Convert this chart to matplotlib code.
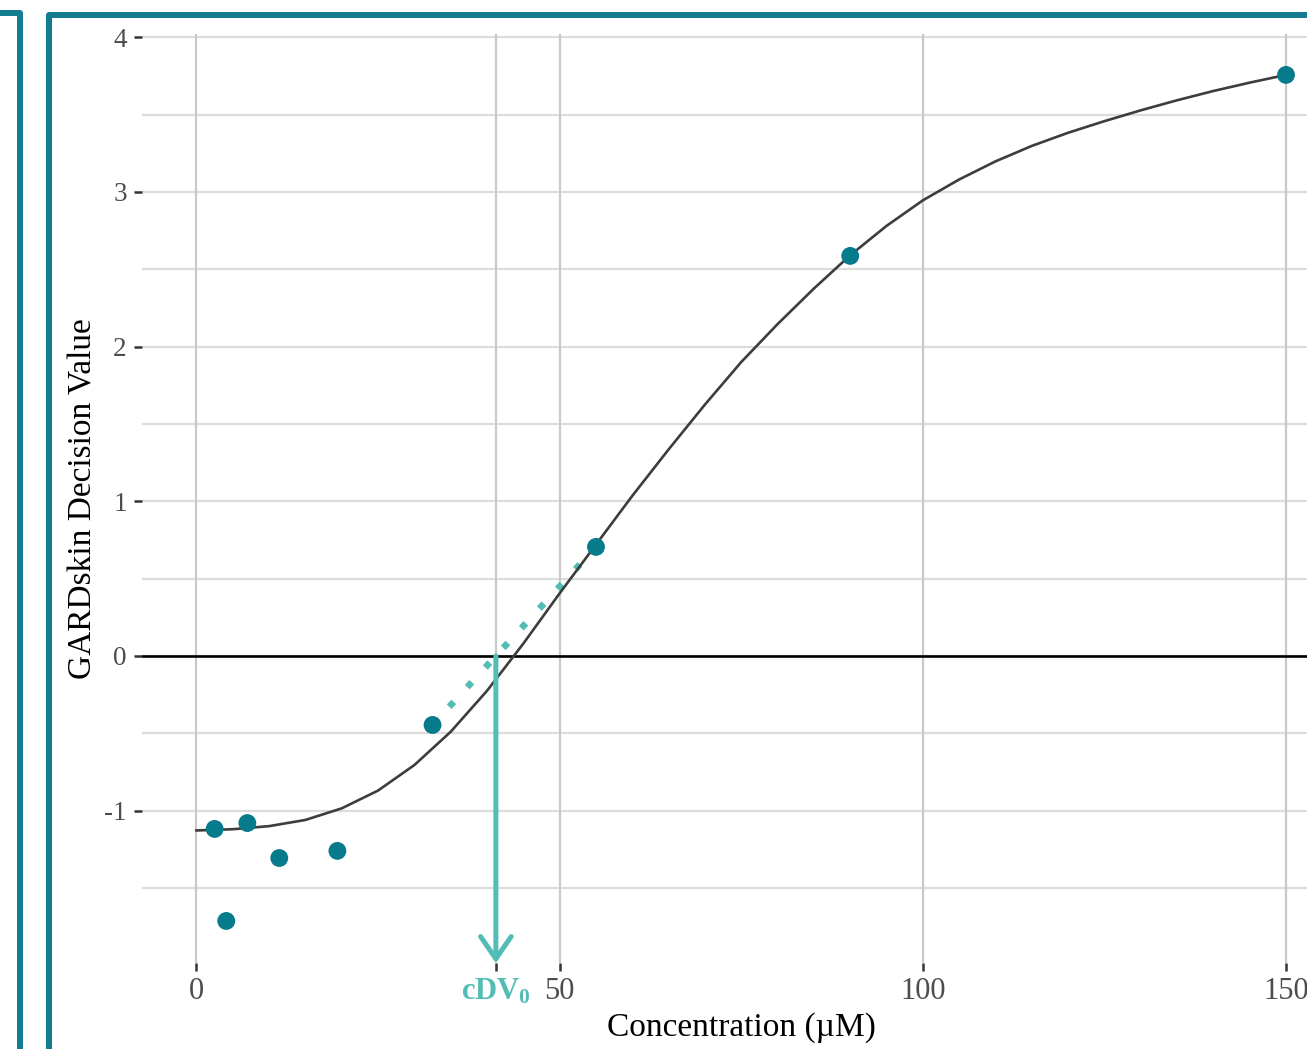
import numpy as np
import matplotlib
matplotlib.use("Agg")
import matplotlib.pyplot as plt
from matplotlib.patches import Rectangle

plt.rcParams["font.family"] = ["Liberation Serif", "DejaVu Serif"]
plt.rcParams["mathtext.fontset"] = "custom"
plt.rcParams["mathtext.rm"] = "Liberation Serif"
plt.rcParams["mathtext.bf"] = "Liberation Serif:bold"
plt.rcParams["axes.unicode_minus"] = False

# measured points (concentration, decision value)
conc = [2.5, 4.1, 7.0, 11.4, 19.4, 32.5, 55.0, 90.0, 150.0]
dv = [-1.118, -1.713, -1.08, -1.306, -1.26, -0.446, 0.705, 2.586, 3.756]

# fitted curve, every 5 uM
fit_x = [0, 5, 10, 15, 20, 25, 30, 35, 40, 45, 50, 55, 60, 65, 70, 75, 80,
         85, 90, 95, 100, 105, 110, 115, 120, 125, 130, 135, 140, 145, 150]
fit_y = [-1.128, -1.12, -1.10, -1.06, -0.985, -0.87, -0.705, -0.49, -0.225,
         0.08, 0.405, 0.72, 1.035, 1.335, 1.625, 1.90, 2.145, 2.375, 2.59,
         2.78, 2.945, 3.08, 3.197, 3.297, 3.382, 3.457, 3.527, 3.592, 3.652,
         3.706, 3.756]

# points either side of zero used for the interpolation
lo_pt = (32.5, -0.446)
hi_pt = (55.0, 0.705)
cdv0 = lo_pt[0] + (0 - lo_pt[1]) * (hi_pt[0] - lo_pt[0]) / (hi_pt[1] - lo_pt[1])

y_ticks = [-1, 0, 1, 2, 3, 4]
y_minor = [-1.5, -0.5, 0.5, 1.5, 2.5, 3.5]

teal = "#067b8c"
light = "#52bdb5"
frame = "#137c90"

W, H = 1307, 1049
fig = plt.figure(figsize=(W / 100, H / 100), dpi=100)

# axes extends past the right side like the cropped original
x0, x1 = -7.5, 157.5
y0, y1 = -1.986, 4.023
ax = fig.add_axes([142 / W, 1 - 963.2 / H, (1340.5 - 142) / W, (963.2 - 33.6) / H])
ax.set_xlim(x0, x1)
ax.set_ylim(y0, y1)
for s in ax.spines.values():
    s.set_visible(False)

for v in y_ticks + y_minor:
    ax.axhline(v, color="#dcdcdc", lw=1.6, zorder=0)
for v in [0, cdv0, 50, 100, 150]:
    ax.axvline(v, color="#c9c9c9", lw=1.6, zorder=0)

ax.axhline(0, color="black", lw=1.9, zorder=1)

# dotted interpolation line
ax.plot([lo_pt[0], hi_pt[0]], [lo_pt[1], hi_pt[1]], color=light, lw=4.8,
        linestyle=(0.3, (1, 3.0)), dash_capstyle="butt", zorder=2)

ax.plot(fit_x, fit_y, color="#3d3d3d", lw=1.9, zorder=3,
        solid_joinstyle="round")
ax.scatter(conc, dv, s=165, color=teal, edgecolors="none", zorder=4)

# arrow down to cDV0
ax.annotate("", xy=(cdv0, y0), xytext=(cdv0, 0),
            arrowprops=dict(arrowstyle="->,head_length=0.8,head_width=0.55",
                            color=light, lw=3.6, mutation_scale=20,
                            capstyle="round", joinstyle="round",
                            shrinkA=0, shrinkB=0), zorder=5)

ax.set_xticks([0, cdv0, 50, 100, 150])
ax.set_xticklabels(["0", r"$\mathbf{cDV_0}$", "50", "100", "150"])
ax.set_yticks(y_ticks)
ax.set_yticklabels([str(v) for v in y_ticks])
ax.tick_params(axis="both", length=6, width=1.8, color="#333333",
               labelcolor="#4d4d4d", pad=5)
ax.tick_params(axis="x", labelsize=22, pad=4)
ax.tick_params(axis="y", labelsize=19.5)
lab = ax.get_xticklabels()[1]
lab.set_color(light)
lab.set_fontweight("bold")

ax.set_xlabel("Concentration (µM)", fontsize=24, labelpad=4)
ax.set_ylabel("GARDskin Decision Value", fontsize=24, labelpad=4)

# panel frames around the figure
lw_px = 6 * 72 / 100
fig.add_artist(Rectangle((49 / W, -0.1), 1.2, 1 - 14.5 / H + 0.1,
                         transform=fig.transFigure, fill=False,
                         edgecolor=frame, lw=lw_px, joinstyle="round"))
fig.add_artist(Rectangle((-0.2, -0.1), 0.2 + 19.7 / W, 1 - 12.5 / H + 0.1,
                         transform=fig.transFigure, fill=False,
                         edgecolor=frame, lw=lw_px, joinstyle="round"))

fig.savefig("out.png", dpi=100)
